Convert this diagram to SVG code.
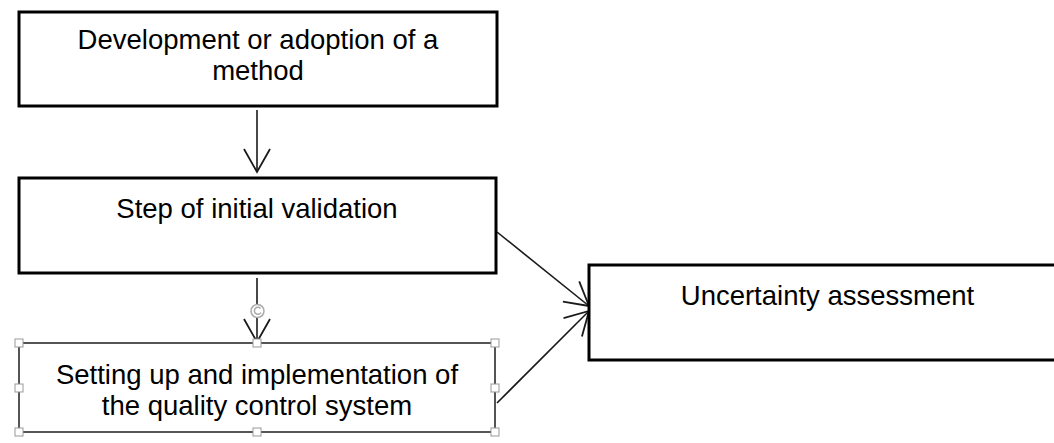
<svg xmlns="http://www.w3.org/2000/svg" width="1054" height="443" viewBox="0 0 1054 443">
<defs>
<style>
.box{fill:#fff;stroke:#000;stroke-width:3}
.sel{fill:#fff;stroke:#555;stroke-width:2}
.lbl{font-family:"Liberation Sans",Arial,sans-serif;font-size:27.5px;fill:#000;text-anchor:middle}
.con{stroke:#1a1a1a;stroke-width:1.6;fill:none}
.h{fill:#fff;stroke:#999;stroke-width:1}
</style>
<marker id="arr" markerUnits="userSpaceOnUse" markerWidth="30" markerHeight="30" refX="24" refY="13" orient="auto" viewBox="0 0 30 26">
<path d="M1,0 L24,13 L1,26" fill="none" stroke="#1a1a1a" stroke-width="1.8"/>
</marker>
</defs>
<rect width="1054" height="443" fill="#fff"/>
<g id="connectors">
<line class="con" x1="257" y1="110" x2="257" y2="172" marker-end="url(#arr)"/>
<line class="con" x1="257" y1="278" x2="257" y2="342" marker-end="url(#arr)"/>
<line class="con" x1="497" y1="232" x2="589" y2="306" marker-end="url(#arr)"/>
<line class="con" x1="497" y1="403" x2="589" y2="311" marker-end="url(#arr)"/>
</g>
<g id="node-development">
<rect class="box" x="19" y="12" width="478" height="94"/>
<text class="lbl" x="258" y="49">Development or adoption of a</text>
<text class="lbl" x="258" y="80">method</text>
</g>
<g id="node-validation">
<rect class="box" x="19" y="178" width="477" height="95"/>
<text class="lbl" x="257" y="218">Step of initial validation</text>
</g>
<g id="node-uncertainty">
<rect class="box" x="589" y="265" width="477" height="95"/>
<text class="lbl" x="827.5" y="305">Uncertainty assessment</text>
</g>
<g id="node-quality">
<rect class="sel" x="19" y="343" width="476" height="89"/>
<text class="lbl" x="257" y="384">Setting up and implementation of</text>
<text class="lbl" x="257" y="415">the quality control system</text>
<g id="selection-handles">
<rect class="h" x="15" y="339" width="8" height="8"/>
<rect class="h" x="253" y="339" width="8" height="8"/>
<rect class="h" x="491" y="339" width="8" height="8"/>
<rect class="h" x="15" y="384" width="8" height="8"/>
<rect class="h" x="491" y="384" width="8" height="8"/>
<rect class="h" x="15" y="428" width="8" height="8"/>
<rect class="h" x="253" y="428" width="8" height="8"/>
<rect class="h" x="491" y="428" width="8" height="8"/>
<circle cx="257.5" cy="311" r="6.5" fill="#fff" stroke="#aaa" stroke-width="1.5"/>
<path d="M260.5,308.5 A3.5,3.5 0 1 0 261,312.5" fill="none" stroke="#aaa" stroke-width="1.5"/>
</g>
</g>
</svg>
